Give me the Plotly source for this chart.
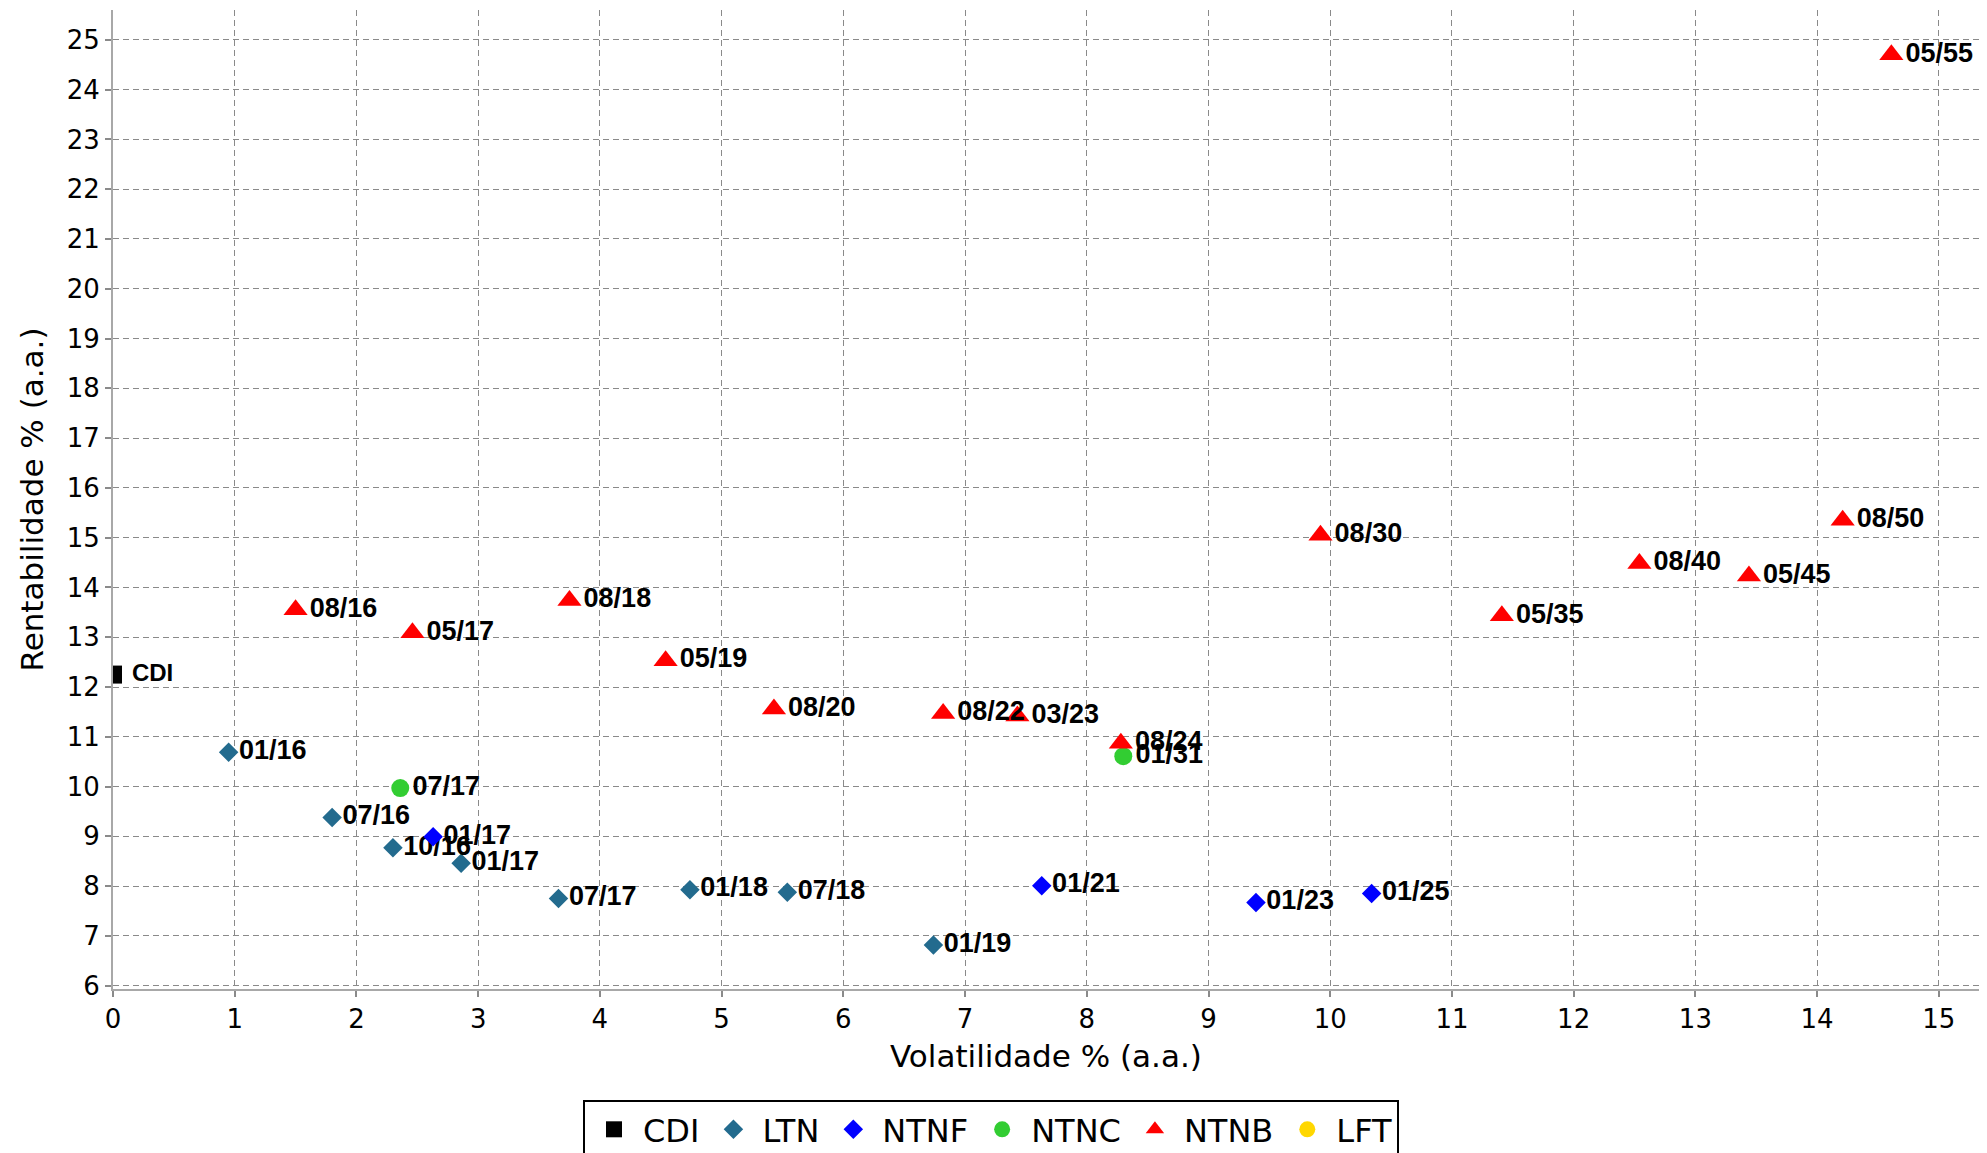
import plotly.graph_objects as go

# ---- data ----
cdi_x = [0.0]
cdi_y = [12.25]
cdi_lbl = ["CDI"]

ltn_x = [0.95, 1.80, 2.30, 2.86, 3.66, 4.74, 5.54, 6.74]
ltn_y = [10.69, 9.38, 8.77, 8.46, 7.75, 7.93, 7.88, 6.82]
ltn_lbl = ["01/16", "07/16", "10/16", "01/17", "07/17", "01/18", "07/18", "01/19"]

ntnf_x = [2.63, 7.63, 9.39, 10.34]
ntnf_y = [8.99, 8.01, 7.67, 7.85]
ntnf_lbl = ["01/17", "01/21", "01/23", "01/25"]

ntnc_x = [2.36, 8.30]
ntnc_y = [9.97, 10.61]
ntnc_lbl = ["07/17", "01/31"]

ntnb_x = [1.50, 2.46, 3.75, 4.54, 5.43, 6.82, 7.43, 8.28, 9.92, 11.41, 12.54, 13.44, 14.21, 14.61]
ntnb_y = [13.55, 13.09, 13.74, 12.53, 11.56, 11.47, 11.42, 10.87, 15.05, 13.43, 14.48, 14.23, 15.35, 24.70]
ntnb_lbl = ["08/16", "05/17", "08/18", "05/19", "08/20", "08/22", "03/23", "08/24",
            "08/30", "05/35", "08/40", "05/45", "08/50", "05/55"]

lft_x = [None]
lft_y = [None]
lft_lbl = [""]

x_ticks = list(range(0, 16))
y_ticks = list(range(6, 26))

LABEL_FAMILY = "Liberation Sans, Arial, sans-serif"

series = [
    ("CDI", cdi_x, cdi_y, cdi_lbl, "square", "#000000", 18, 24, "\u00a0%{text}"),
    ("LTN", ltn_x, ltn_y, ltn_lbl, "diamond", "#236B8E", 15, 27, "%{text}"),
    ("NTNF", ntnf_x, ntnf_y, ntnf_lbl, "diamond", "#0000FF", 15, 27, "%{text}"),
    ("NTNC", ntnc_x, ntnc_y, ntnc_lbl, "circle", "#32CD32", 18, 27, "%{text}"),
    ("NTNB", ntnb_x, ntnb_y, ntnb_lbl, "triangle-up", "#FF0000", 21, 27, "%{text}"),
    ("LFT", lft_x, lft_y, lft_lbl, "circle", "#FFD700", 18, 27, "%{text}"),
]

fig = go.Figure()
for name, xs, ys, lbl, sym, col, sz, fsz, tmpl in series:
    fig.add_trace(go.Scatter(
        x=xs, y=ys, text=lbl, name=name, texttemplate=tmpl,
        mode="markers+text", textposition="middle right",
        marker=dict(symbol=sym, color=col, size=sz, line=dict(width=0)),
        textfont=dict(family=LABEL_FAMILY, size=fsz, color="black", weight="bold"),
        cliponaxis=True, showlegend=True, hoverinfo="x+y+text",
    ))

axis_common = dict(
    showgrid=True, gridcolor="#8a8a8a", gridwidth=1, griddash="6px,4px",
    showline=True, linecolor="#a8a8a8", linewidth=2, mirror=False,
    ticks="outside", ticklen=6, tickwidth=2, tickcolor="#8a8a8a",
    tickfont=dict(family="DejaVu Sans", size=26, color="black"),
    zeroline=False,
)

fig.update_xaxes(
    range=[0, 15.33], tickmode="array", tickvals=x_ticks,
    title=dict(text="Volatilidade % (a.a.)", font=dict(family="DejaVu Sans", size=31, color="black"), standoff=12),
    **axis_common,
)
fig.update_yaxes(
    range=[5.934, 25.6], tickmode="array", tickvals=y_ticks,
    title=dict(text="Rentabilidade % (a.a.)", font=dict(family="DejaVu Sans", size=31, color="black"), standoff=14),
    **axis_common,
)

W, H = 1979, 1145
fig.update_layout(
    width=W, height=H,
    margin=dict(l=105, r=8, t=2, b=164, pad=0),
    paper_bgcolor="white", plot_bgcolor="white",
    font=dict(family="DejaVu Sans", color="black"),
    legend=dict(
        orientation="h", xref="container", x=(991 - 8) / W, xanchor="center",
        yref="container", y=(H - 1092) / H, yanchor="top",
        bordercolor="black", borderwidth=2, bgcolor="white",
        font=dict(family="DejaVu Sans", size=32, color="black"),
        itemsizing="trace", itemwidth=48,
    ),
)

fig.write_html("out.html")
